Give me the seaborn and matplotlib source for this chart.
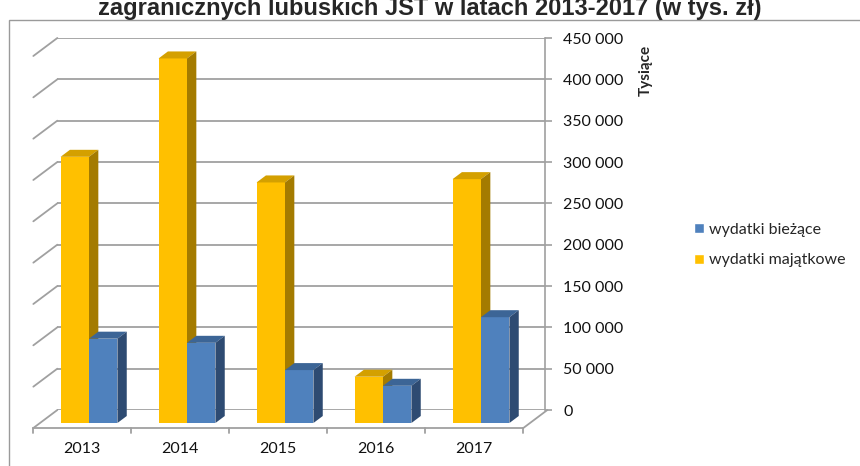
import numpy as np
import pandas as pd
import matplotlib
matplotlib.use("Agg")
import matplotlib.pyplot as plt
import matplotlib.transforms as mtransforms
from matplotlib.patches import Polygon, Patch, Rectangle
import seaborn as sns

# dane (tys. zl)
lata = ["2013", "2014", "2015", "2016", "2017"]
majatkowe = [322000, 441000, 291000, 56000, 295000]
biezace = [102000, 97000, 64000, 45000, 128000]
serie = ["wydatki majątkowe", "wydatki bieżące"]
y_ticks = [0, 50000, 100000, 150000, 200000, 250000, 300000, 350000, 400000, 450000]

df = pd.DataFrame({
    "rok": lata * 2,
    "typ": [serie[0]] * len(lata) + [serie[1]] * len(lata),
    "wartosc": majatkowe + biezace,
})

kolory = {"wydatki majątkowe": "#FFC000", "wydatki bieżące": "#4F81BD"}
gora = {"wydatki majątkowe": "#D4A000", "wydatki bieżące": "#3C6596"}
bok = {"wydatki majątkowe": "#A47B00", "wydatki bieżące": "#2E4B72"}
siatka = "#A0A0A0"

sns.set_style("white")
plt.rcParams["font.family"] = ["Lato", "DejaVu Sans"]

W, H = 860, 466
fig = plt.figure(figsize=(W / 100, H / 100), dpi=100)

# front plane of the bars (pixels)
ax_l, ax_r, ax_b, ax_t = 40, 530, 423, 51
ymax = y_ticks[-1]
xpp = len(lata) / (ax_r - ax_l)
ypp = ymax / (ax_b - ax_t)


def depth(d):
    # oblique offset for a depth of d pixels
    return d * 4 / 3 * xpp, d * ypp


# back wall with grid lines
wall_d = 13
wx = wall_d * 4 / 3
wall = fig.add_axes([(ax_l + wx) / W, (H - ax_b + wall_d) / H,
                     (ax_r - ax_l - 2) / W, (ax_b - ax_t) / H])
wall.set_xlim(-0.5, len(lata) - 0.5)
wall.set_ylim(0, ymax)
wall.set_facecolor("none")
for s in ["left", "top", "bottom"]:
    wall.spines[s].set_visible(False)
wall.spines["right"].set_color(siatka)
wall.spines["right"].set_linewidth(1.2)
wall.yaxis.tick_right()
wall.set_yticks(y_ticks)
wall.set_yticklabels([f"{v:,}".replace(",", " ") for v in y_ticks])
wall.tick_params(axis="y", direction="out", length=5, width=1.2, color=siatka,
                 pad=8, labelsize=11.5, labelcolor="#111111")
wall.set_xticks([])
wall.yaxis.grid(True, color=siatka, linewidth=1.3)
wall.set_axisbelow(True)

# bars
ax = fig.add_axes([ax_l / W, (H - ax_b) / H, (ax_r - ax_l) / W, (ax_b - ax_t) / H])
ax.set_facecolor("none")
sns.barplot(data=df, x="rok", y="wartosc", hue="typ", hue_order=serie,
            palette=kolory, width=0.58, saturation=1, legend=False, ax=ax)
ax.set_xlim(-0.5, len(lata) - 0.5)
ax.set_ylim(0, ymax)
for s in ax.spines.values():
    s.set_visible(False)
ax.set_yticks([])
ax.set_xlabel("")
ax.set_ylabel("")
ax.tick_params(axis="x", length=0, pad=14, labelsize=11.5, labelcolor="#111111")
shift = mtransforms.ScaledTranslation(-7 / 100, 0, fig.dpi_scale_trans)
for lab in ax.get_xticklabels():
    lab.set_transform(lab.get_transform() + shift)

bx, by = depth(7)
for i, cont in enumerate(ax.containers):
    typ = serie[i]
    for p in cont.patches:
        p.set_zorder(3 + i)
        p.set_edgecolor("none")
        x0 = p.get_x()
        x1 = x0 + p.get_width()
        h = p.get_height()
        top = Polygon([(x0, h), (x1, h), (x1 + bx, h + by), (x0 + bx, h + by)],
                      closed=True, facecolor=gora[typ], edgecolor="none", zorder=3 + i)
        side = Polygon([(x1, 0), (x1, h), (x1 + bx, h + by), (x1 + bx, by)],
                       closed=True, facecolor=bok[typ], edgecolor="none", zorder=3 + i)
        ax.add_patch(top)
        ax.add_patch(side)

# floor and left side lines
fx, fy = depth(-5)
kx, ky = depth(wall_d)
left = -0.5
right = len(lata) - 0.5
for v in y_ticks:
    ax.plot([left + fx, left + kx], [v + fy, v + ky], color=siatka, lw=1.3,
            clip_on=False, zorder=1)
ax.plot([left + fx, right + fx], [fy, fy], color=siatka, lw=1.3, clip_on=False, zorder=1)
ax.plot([right + fx, right + kx], [fy, ky], color=siatka, lw=1.3, clip_on=False, zorder=1)
granice = np.arange(len(lata) + 1) - 0.5
for g in granice:
    ax.plot([g + fx, g + fx], [fy, fy - 5 * ypp], color=siatka, lw=1.3,
            clip_on=False, zorder=1)

# chart area border
fig.patches.append(Rectangle((9 / W, -0.2), 2, 1.2 - 20 / H, transform=fig.transFigure,
                             facecolor="none", edgecolor="#9a9a9a", lw=1.0))

# the first title line lies above the picture, as in the original
fig.text(0.5, 1 - 15 / H, "zagranicznych lubuskich JST w latach 2013-2017 (w tys. zł)",
         ha="center", va="baseline", fontsize=17, fontweight="bold",
         family=["Liberation Sans", "DejaVu Sans"])
fig.text(646 / W, 1 - 70 / H, "Tysiące", rotation=90, ha="center", va="center",
         fontsize=11, fontweight="bold")

uchwyty = [Patch(facecolor=kolory[serie[1]], label=serie[1]),
           Patch(facecolor=kolory[serie[0]], label=serie[0])]
fig.legend(handles=uchwyty, loc="center left", bbox_to_anchor=(680 / W, 1 - 245 / H),
           frameon=False, fontsize=11.5, handlelength=0.6, handleheight=0.6,
           handletextpad=0.3, labelspacing=1.05)

fig.savefig("out.png", dpi=100)
